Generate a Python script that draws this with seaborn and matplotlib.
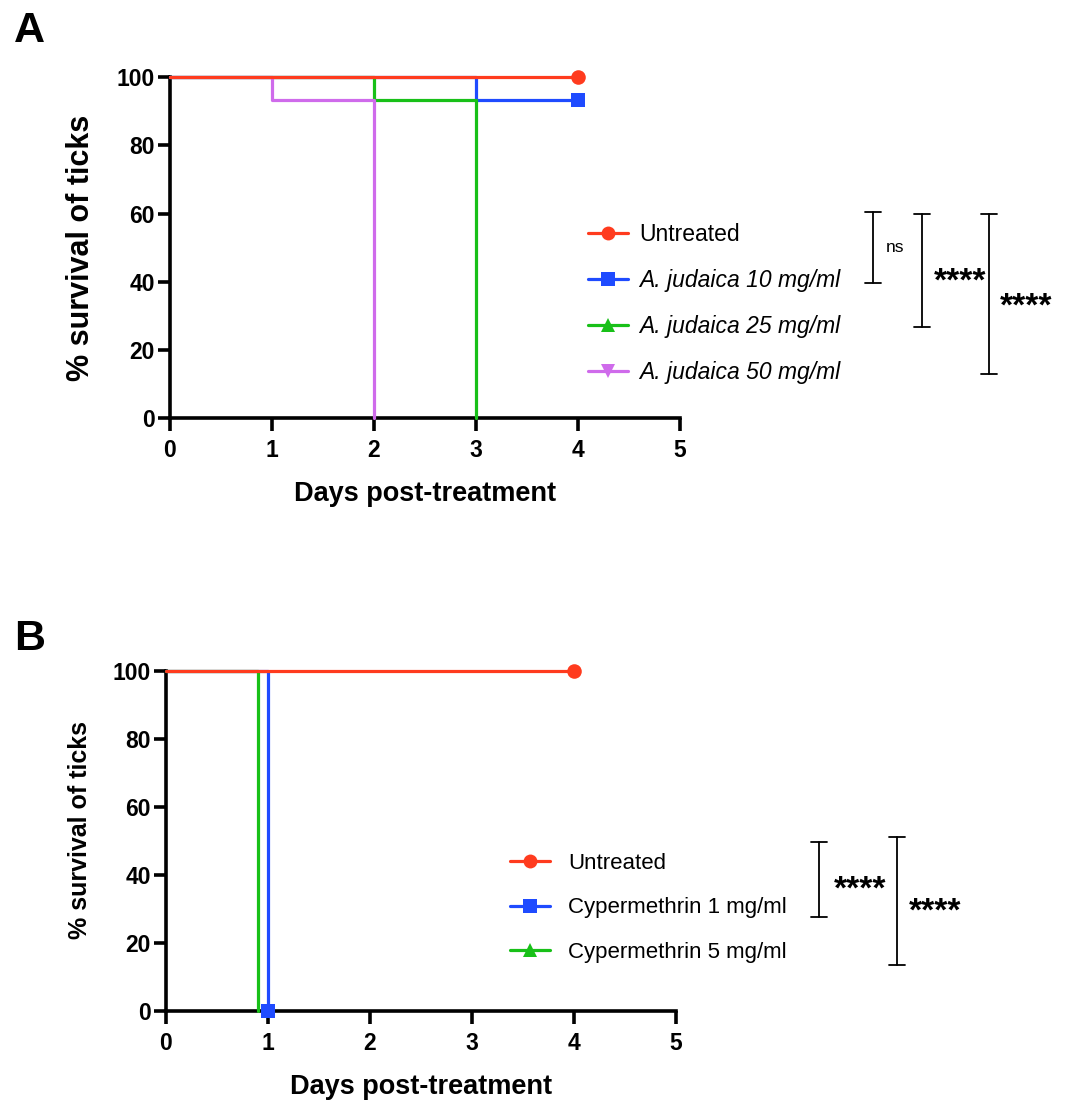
import seaborn as sns
import matplotlib.pyplot as plt
from matplotlib.lines import Line2D

# === 1. Data (Kaplan-Meier steps: day of each step, % survival after it) ===
# Panel A: A. judaica extract
untreated_a_days = [0, 4]
untreated_a_surv = [100, 100]
jud10_days = [0, 3, 4]
jud10_surv = [100, 93.3, 93.3]
jud25_days = [0, 2, 3]
jud25_surv = [100, 93.3, 0]
jud50_days = [0, 1, 2]
jud50_surv = [100, 93.3, 0]
labels_a = ["Untreated", "A. judaica 10 mg/ml", "A. judaica 25 mg/ml", "A. judaica 50 mg/ml"]
sig_a = ["ns", "****", "****"]

# Panel B: cypermethrin
untreated_b_days = [0, 4]
untreated_b_surv = [100, 100]
cyp1_days = [0, 1]
cyp1_surv = [100, 0]
cyp5_days = [0, 0.9]
cyp5_surv = [100, 0]
labels_b = ["Untreated", "Cypermethrin 1 mg/ml", "Cypermethrin 5 mg/ml"]
sig_b = ["****", "****"]

x_ticks = [0, 1, 2, 3, 4, 5]
y_ticks = [0, 20, 40, 60, 80, 100]

# === 2. Style ===
RED, BLUE, GREEN, PURPLE = "#FF3B1E", "#1F4BFF", "#18C018", "#CF6BEB"
sns.set_theme(style="ticks")
plt.rcParams["font.family"] = ["Liberation Sans", "DejaVu Sans"]
plt.rcParams.update({"text.color": "black", "axes.labelcolor": "black",
                     "xtick.color": "black", "ytick.color": "black"})

W, H = 1068, 1101
fig = plt.figure(figsize=(W / 100, H / 100), dpi=100)


def fx(px):
    return px / W


def fy(py):
    return 1 - py / H


def draw_curve(ax, days, surv, color, marker, censored, z=3):
    sns.lineplot(x=days, y=surv, ax=ax, drawstyle="steps-post", color=color,
                 linewidth=2.3, marker=marker if censored else "None",
                 markevery=[len(days) - 1], markersize=10.5,
                 markeredgewidth=0, markeredgecolor=color,
                 clip_on=False, zorder=z)


def style_axes(ax, ylabel_size):
    ax.set_xlim(0, 5)
    ax.set_ylim(0, 100)
    ax.set_xticks(x_ticks, [str(v) for v in x_ticks], fontweight="bold")
    ax.set_yticks(y_ticks, [str(v) for v in y_ticks], fontweight="bold")
    ax.tick_params(axis="both", width=2.6, length=9, labelsize=16.5, color="black")
    ax.tick_params(axis="x", pad=6)
    ax.tick_params(axis="y", pad=2)
    sns.despine(ax=ax)
    for s in ("left", "bottom"):
        ax.spines[s].set_linewidth(2.6)
        ax.spines[s].set_color("black")
    ax.set_xlabel("Days post-treatment", fontsize=19.5, fontweight="bold")
    ax.set_ylabel("% survival of ticks", fontsize=ylabel_size, fontweight="bold")
    ax.grid(False)


def bracket(x, y0, y1, w=8):
    fig.add_artist(Line2D([fx(x), fx(x)], [fy(y0), fy(y1)], color="black", lw=1.3))
    for y in (y0, y1):
        fig.add_artist(Line2D([fx(x - w), fx(x + w)], [fy(y), fy(y)], color="black", lw=1.3))


def stars(x, y, s):
    # asterisks sit high in the em box, so put the baseline below the visual centre
    fig.text(fx(x), fy(y + 19), s, fontsize=24, fontweight="bold", ha="center", va="baseline")


# === 3. Panel A ===
ax_a = fig.add_axes([fx(170), fy(418.3), fx(510), 341 / H])
draw_curve(ax_a, jud10_days, jud10_surv, BLUE, "s", True)
draw_curve(ax_a, jud25_days, jud25_surv, GREEN, "^", False)
draw_curve(ax_a, jud50_days, jud50_surv, PURPLE, "v", False)
draw_curve(ax_a, untreated_a_days, untreated_a_surv, RED, "o", True, z=4)
style_axes(ax_a, 22)
ax_a.xaxis.set_label_coords(0.5, -0.185)
ax_a.yaxis.set_label_coords(-0.145, 0.5)

handles_a = [Line2D([], [], color=c, marker=m, lw=2.3, markersize=10, markeredgewidth=0)
             for c, m in zip([RED, BLUE, GREEN, PURPLE], ["o", "s", "^", "v"])]
leg_a = fig.legend(handles_a, labels_a, loc="center left", bbox_to_anchor=(fx(588), fy(303.5)),
                   frameon=False, fontsize=16.5, handlelength=1.75, handletextpad=0.5,
                   labelspacing=1.0, borderpad=0, borderaxespad=0)
for t in leg_a.get_texts()[1:]:
    t.set_fontstyle("italic")

bracket(873, 212, 283)
bracket(922, 214, 327)
bracket(989, 214, 374)
fig.text(fx(895), fy(248), sig_a[0], fontsize=12.5, ha="center", va="center")
stars(960, 272, sig_a[1])
stars(1026, 297, sig_a[2])

fig.text(fx(14), fy(11), "A", fontsize=31, fontweight="bold", ha="left", va="top")

# === 4. Panel B ===
ax_b = fig.add_axes([fx(166), fy(1011), fx(510), 340 / H])
draw_curve(ax_b, cyp1_days, cyp1_surv, BLUE, "s", True)
draw_curve(ax_b, cyp5_days, cyp5_surv, GREEN, "^", False)
draw_curve(ax_b, untreated_b_days, untreated_b_surv, RED, "o", True, z=4)
style_axes(ax_b, 18)
ax_b.xaxis.set_label_coords(0.5, -0.185)
ax_b.yaxis.set_label_coords(-0.145, 0.532)

handles_b = [Line2D([], [], color=c, marker=m, lw=2.3, markersize=10, markeredgewidth=0)
             for c, m in zip([RED, BLUE, GREEN], ["o", "s", "^"])]
fig.legend(handles_b, labels_b, loc="center left", bbox_to_anchor=(fx(510), fy(908)),
           frameon=False, fontsize=16, handlelength=1.8, handletextpad=0.8,
           labelspacing=1.05, borderpad=0, borderaxespad=0)

bracket(819, 842, 917)
bracket(897, 837, 965)
stars(860, 880, sig_b[0])
stars(935, 902, sig_b[1])

fig.text(fx(14), fy(619), "B", fontsize=31, fontweight="bold", ha="left", va="top")

plt.savefig("out.png", dpi=100)
plt.close()
